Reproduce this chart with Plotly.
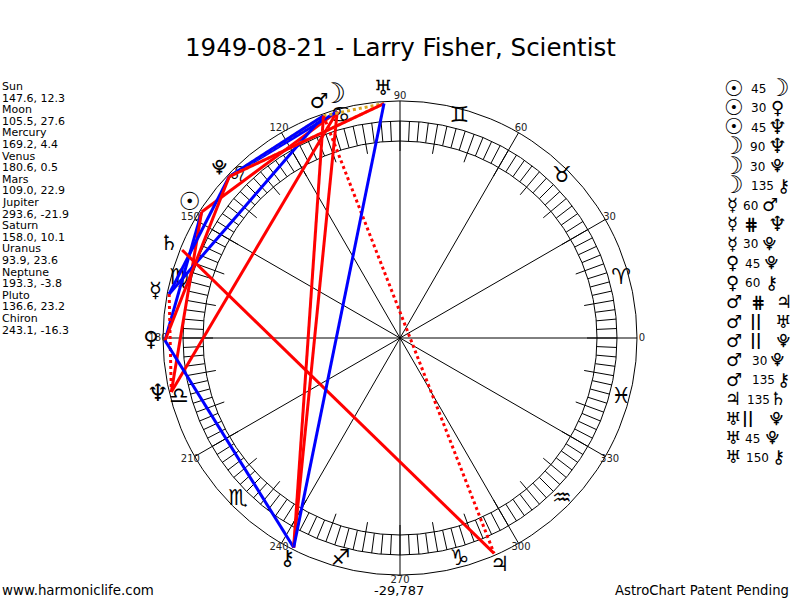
import plotly.graph_objects as go

# planet table
planets = ['Sun', 'Moon', 'Mercury', 'Venus', 'Mars', 'Jupiter', 'Saturn', 'Uranus', 'Neptune', 'Pluto', 'Chiron']
longitudes = [147.6, 105.5, 169.2, 180.6, 109.0, 293.6, 158.0, 93.9, 193.3, 136.6, 243.1]
declinations = [12.3, 27.6, 4.4, 0.5, 22.9, -21.9, 10.1, 23.6, -3.8, 23.2, -16.3]
glyphs = ['☉', '☽', '☿', '♀', '♂', '♃', '♄', '♅', '♆', '⯓', '⚷']

# aspects, same order as the list on the right
aspect_a = ['Sun', 'Sun', 'Sun', 'Moon', 'Moon', 'Moon', 'Mercury', 'Mercury', 'Mercury', 'Venus',
            'Venus', 'Mars', 'Mars', 'Mars', 'Mars', 'Mars', 'Jupiter', 'Uranus', 'Uranus', 'Uranus']
aspect_type = ['45', '30', '45', '90', '30', '135', '60', '#', '30', '45',
               '60', '#', '||', '||', '30', '135', '135', '||', '45', '150']
aspect_b = ['Moon', 'Venus', 'Neptune', 'Neptune', 'Pluto', 'Chiron', 'Mars', 'Neptune', 'Pluto', 'Pluto',
            'Chiron', 'Jupiter', 'Uranus', 'Pluto', 'Pluto', 'Chiron', 'Saturn', 'Pluto', 'Pluto', 'Chiron']

signs = ['♈', '♉', '♊', '♋', '♌', '♍', '♎', '♏', '♐', '♑', '♒', '♓']
degree_labels = [0, 30, 60, 90, 120, 150, 180, 210, 240, 270, 300, 330]

title = '1949-08-21 - Larry Fisher, Scientist'
footer_left = 'www.harmoniclife.com'
footer_mid = '-29,787'
footer_right = 'AstroChart Patent Pending'

# where the list columns sit, px
mid_x = [758, 758, 758, 757, 757, 762, 750, 751, 750, 752, 752, 758, 756, 756, 759, 763, 758, 748, 752, 757]
end_x = [779, 777, 777, 777, 777, 783, 770, 777, 769, 771, 771, 784, 783, 783, 777, 783, 778, 776, 772, 778]
first_x = [734, 734, 734, 733, 733, 733, 732, 732, 732, 732, 732, 734, 734, 734, 734, 734, 733, 733, 733, 733]

FONT = 'DejaVu Sans'
RED = '#ff0000'
BLUE = '#0000ff'
GOLD = '#daa520'
styles = {'45': (RED, 'solid'), '90': (RED, 'solid'), '135': (RED, 'solid'),
          '30': (BLUE, 'solid'), '60': (BLUE, 'solid'), '150': (BLUE, 'solid'),
          '#': (RED, 'dot'), '||': (GOLD, 'dot')}
# some glyphs come out too small or too wide in these fonts
glyph_scale = {'☉': 1.2, '☽': 1.35, '⯓': 0.72, '♆': 1.15}

lon = dict(zip(planets, longitudes))
glyph = dict(zip(planets, glyphs))


def glyph_text(g, size):
    px = round(size * glyph_scale.get(g, 1))
    return f"<span style='font-size:{px}px'><b>{g}</b></span>"


fig = go.Figure()

# spokes every 30 deg
spoke_r, spoke_t = [], []
for a in range(0, 360, 30):
    spoke_r += [0, 237, None]
    spoke_t += [a, a, None]
fig.add_trace(go.Scatterpolar(r=spoke_r, theta=spoke_t, mode='lines', line=dict(color='black', width=1)))

# ring divisions
tick_r, tick_t = [], []
for i in range(144):
    a = i * 2.5
    tick_r += [187 if i % 4 == 0 else 197, 217, None]
    tick_t += [a, a, None]
fig.add_trace(go.Scatterpolar(r=tick_r, theta=tick_t, mode='lines', line=dict(color='black', width=1)))

fig.add_trace(go.Scatterpolar(r=[242] * 12, theta=degree_labels, text=[str(d) for d in degree_labels],
                              mode='text', textposition='middle center',
                              textfont=dict(family=FONT, size=10, color='#222222')))
fig.add_trace(go.Scatterpolar(r=[229] * 12, theta=[15 + 30 * i for i in range(12)], text=signs,
                              mode='text', textposition='middle center',
                              textfont=dict(family=FONT, size=22, color='black')))
fig.add_trace(go.Scatterpolar(r=[249] * 11, theta=longitudes, text=[glyph_text(g, 21) for g in glyphs],
                              mode='text', textposition='middle center',
                              textfont=dict(family=FONT, size=21, color='black')))

for a, t, b in zip(aspect_a, aspect_type, aspect_b):
    color, dash = styles[t]
    fig.add_trace(go.Scatterpolar(r=[235, 235], theta=[lon[a], lon[b]], mode='lines',
                                  line=dict(color=color, width=3, dash=dash)))


def note(x, y, text, size=11, anchor='left', color='black'):
    fig.add_annotation(x=x / 800, y=1 - y / 600, xref='paper', yref='paper', text=text, showarrow=False,
                       xanchor=anchor, yanchor='middle', font=dict(family=FONT, size=size, color=color),
                       borderpad=0, borderwidth=0)


# planet positions on the left
for i, name in enumerate(planets):
    note(2, 86.5 + i * 23.2, name)
    note(2, 98 + i * 23.2, f'{longitudes[i]}, {declinations[i]}')

# aspect list on the right
for i in range(20):
    y = 88 + i * 19.42
    note(first_x[i], y, glyph_text(glyph[aspect_a[i]], 18), size=18, anchor='center')
    t = aspect_type[i]
    if t == '#':
        note(mid_x[i], y, '<b>⋕</b>', size=17, anchor='center')
    elif t == '||':
        note(mid_x[i], y, '<b>||</b>', size=16, anchor='center')
    else:
        note(mid_x[i], y + 1, t, size=12, anchor='center')
    note(end_x[i], y, glyph_text(glyph[aspect_b[i]], 18), size=18, anchor='center')

note(400, 47, title, size=24.5, anchor='center')
note(2, 590, footer_left, size=13.4)
note(399, 590, footer_mid, size=13, anchor='center')
note(789, 590, footer_right, size=13.2, anchor='right')

fig.update_layout(
    width=800, height=600, margin=dict(l=0, r=0, t=0, b=0), showlegend=False,
    paper_bgcolor='white', plot_bgcolor='white',
    polar=dict(
        domain=dict(x=[138 / 800, 662 / 800], y=[0, 524 / 600]),
        bgcolor='white',
        radialaxis=dict(range=[0, 262], tickmode='array', tickvals=[197, 217, 237], showticklabels=False,
                        ticks='', showline=False, showgrid=True, gridcolor='black', gridwidth=1, layer='below traces'),
        angularaxis=dict(showgrid=False, showline=False, showticklabels=False, ticks='', layer='below traces'),
    ),
)
fig.update_traces(hoverinfo='skip')

# the page's default body margin would push the chart 8px off
fig.write_html("out.html", config={'displayModeBar': False}, post_script="document.body.style.margin='0';")
